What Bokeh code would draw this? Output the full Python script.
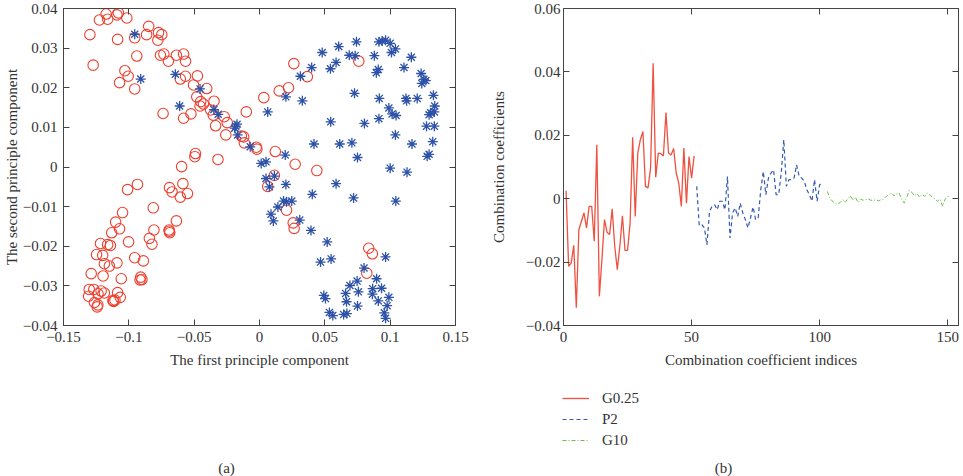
from bokeh.plotting import figure
from bokeh.layouts import row, column
from bokeh.models import FixedTicker, LinearAxis, Range1d, Label, Legend, LegendItem
from bokeh.embed import file_html
from bokeh.resources import INLINE

# ---------------- data: panel (a) ----------------
red_x = [-0.1298, -0.1273, -0.1225, -0.1174, -0.1162, -0.1091, -0.1080, -0.1015, -0.1086, -0.0955,
         -0.0939, -0.1030, -0.1005, -0.1071, -0.0955, -0.0848, -0.0864, -0.0778, -0.0773, -0.0748,
         -0.0758, -0.0732, -0.0697, -0.0636, -0.0581, -0.0566, -0.0606, -0.0566, -0.0475, -0.0505,
         -0.0480, -0.0450, -0.0429, -0.0455, -0.0404, -0.0348, -0.0374, -0.0354, -0.0336, -0.0270,
         -0.0247, -0.0258, -0.0101, -0.0139, -0.0121, -0.0116, -0.0025, -0.0020, -0.0738, -0.0581,
         -0.0525, -0.0490, -0.0495, -0.0318, -0.0596, 0.0033, 0.0151, 0.0222, 0.0263, 0.0366,
         0.0760, 0.0121, 0.0273, 0.0439,
         -0.1010, -0.0934, -0.0689, -0.0669, -0.0586, -0.0606, -0.0551, -0.1048, -0.1101, -0.1071,
         -0.1131, -0.0813, -0.0808, -0.0843, -0.0823, -0.0636, -0.0692, -0.0687, -0.0690, -0.1002,
         -0.1217, -0.1162, -0.1141, -0.1247, -0.1200, -0.1187, -0.1149, -0.1091, -0.1197, -0.1288,
         -0.0955, -0.0889, -0.1058, -0.0909, -0.0914, -0.0900, -0.1303, -0.1268, -0.1212, -0.1187,
         -0.1308, -0.1263, -0.1237, -0.1242, -0.1086, -0.1066, -0.1116, -0.1106, -0.1236, -0.1122,
         0.0063, 0.0114, 0.0207, 0.0258, 0.0265, 0.0836, 0.0864, 0.0821]
red_y = [0.0334, 0.0257, 0.0371, 0.0386, 0.0373, 0.0384, 0.0389, 0.0376, 0.0322, 0.0326,
         0.0280, 0.0243, 0.0229, 0.0213, 0.0197, 0.0355, 0.0334, 0.0320, 0.0339, 0.0334,
         0.0282, 0.0285, 0.0267, 0.0282, 0.0285, 0.0267, 0.0222, 0.0229, 0.0230, 0.0207,
         0.0177, 0.0165, 0.0159, 0.0154, 0.0198, 0.0166, 0.0144, 0.0131, 0.0104, 0.0127,
         0.0112, 0.0081, 0.0139, 0.0078, 0.0076, 0.0061, 0.0050, 0.0045, 0.0135, 0.0123,
         0.0134, 0.0034, 0.0026, 0.0019, 0.0001, 0.0175, 0.0192, 0.0200, 0.0261, 0.0228,
         0.0267, 0.0039, 0.0007, -0.0009,
         -0.0057, -0.0044, -0.0052, -0.0063, -0.0042, -0.0076, -0.0067, -0.0115, -0.0139, -0.0156,
         -0.0166, -0.0103, -0.0159, -0.0180, -0.0195, -0.0136, -0.0159, -0.0166, -0.0162, -0.0189,
         -0.0193, -0.0196, -0.0198, -0.0221, -0.0223, -0.0244, -0.0250, -0.0242, -0.0275, -0.0269,
         -0.0229, -0.0237, -0.0282, -0.0278, -0.0285, -0.0284, -0.0309, -0.0309, -0.0313, -0.0318,
         -0.0326, -0.0342, -0.0348, -0.0353, -0.0317, -0.0329, -0.0339, -0.0336, -0.0320, -0.0337,
         -0.0049, -0.0021, -0.0109, -0.0141, -0.0155, -0.0205, -0.0219, -0.0268]

blue_x = [-0.0955, -0.0909, -0.0644, -0.0611, -0.0455, -0.0349, -0.0316, -0.0182, -0.0172, -0.0190,
          -0.0167, -0.0071, 0.0013, 0.0050, 0.0063, 0.0202, 0.0197, 0.0313, 0.0328, 0.0399,
          0.0417, 0.0480, 0.0543, 0.0545, 0.0586, 0.0606, 0.0614, 0.0687, 0.0732, 0.0742,
          0.0707, 0.0727, 0.0750, 0.0803, 0.0879, 0.0894, 0.0909, 0.0917, 0.0914, 0.0914,
          0.0939, 0.0965, 0.1000, 0.1010, 0.1040, 0.0990, 0.1015, 0.1045, 0.1040, 0.1000,
          0.1106, 0.1121, 0.1126, 0.1162, 0.1167, 0.1207, 0.1129, 0.1237, 0.1258, 0.1242,
          0.1273, 0.1331, 0.1341, 0.1298, 0.1310, 0.1338, 0.1278, 0.1338, 0.1326, 0.1283,
          0.1298,
          0.0050, 0.0076, 0.0114, 0.0202, 0.0586, 0.0404, 0.0720, 0.0088, 0.0106, 0.0141,
          0.0184, 0.0207, 0.0247, 0.0308, 0.0394, 0.0518, 0.0467, 0.0548, 0.0800, 0.0965,
          0.1043, 0.0692, 0.0747, 0.0659, 0.0757, 0.0896, 0.0866, 0.0934, 0.0864, 0.0909,
          0.0990, 0.0977, 0.0955, 0.0965, 0.0666, 0.0750, 0.0492, 0.0505, 0.0535, 0.0561,
          0.0644, 0.0669]
blue_y = [0.0335, 0.0222, 0.0234, 0.0154, 0.0197, 0.0145, 0.0133, 0.0103, 0.0108, 0.0098,
          0.0081, 0.0051, 0.0009, 0.0013, 0.0139, 0.0177, 0.0030, 0.0229, 0.0167, 0.0251,
          0.0058, 0.0289, 0.0248, 0.0114, 0.0264, 0.0304, 0.0058, 0.0282, 0.0281, 0.0316,
          0.0061, 0.0186, 0.0024, 0.0110, 0.0281, 0.0238, 0.0246, 0.0173, 0.0122, 0.0316,
          0.0318, 0.0320, 0.0312, 0.0289, 0.0298, 0.0149, 0.0134, 0.0130, 0.0081, -0.0003,
          0.0251, 0.0173, 0.0167, 0.0277, 0.0058, 0.0173, -0.0013, 0.0236, 0.0221, 0.0211,
          0.0218, 0.0181, 0.0154, 0.0132, 0.0137, 0.0139, 0.0103, 0.0103, 0.0064, 0.0027,
          0.0032,
          -0.0029, -0.0050, -0.0023, -0.0044, -0.0042, -0.0069, -0.0078, -0.0119, -0.0136, -0.0101,
          -0.0086, -0.0088, -0.0086, -0.0134, -0.0160, -0.0189, -0.0240, -0.0232, -0.0255, -0.0227,
          -0.0086, -0.0299, -0.0288, -0.0319, -0.0315, -0.0282, -0.0307, -0.0306, -0.0321, -0.0338,
          -0.0329, -0.0350, -0.0368, -0.0382, -0.0340, -0.0351, -0.0324, -0.0332, -0.0367, -0.0375,
          -0.0372, -0.0370]

a_xticks = [-0.15, -0.1, -0.05, 0.0, 0.05, 0.1, 0.15]
a_xlabels = ["\u22120.15", "\u22120.1", "\u22120.05", "0", "0.05", "0.1", "0.15"]
a_yticks = [-0.04, -0.03, -0.02, -0.01, 0.0, 0.01, 0.02, 0.03, 0.04]
a_ylabels = ["\u22120.04", "\u22120.03", "\u22120.02", "\u22120.01", "0", "0.01", "0.02", "0.03", "0.04"]

# ---------------- data: panel (b) ----------------
g025_vals = [0.0025, -0.0213, -0.0203, -0.0147, -0.0344, -0.0098, -0.0071, -0.0045, -0.0092, -0.0024,
             -0.0024, -0.0134, 0.0170, -0.0308, -0.0192, -0.0066, -0.0106, -0.0113, -0.0032, -0.0150,
             -0.0224, -0.0150, -0.0054, -0.0163, -0.0163, -0.0077, 0.0194, -0.0056, 0.0144, 0.0186,
             0.0212, 0.0039, 0.0034, 0.0097, 0.0427, 0.0068, 0.0144, 0.0142, 0.0135, 0.0272,
             0.0144, 0.0138, 0.0158, 0.0081, 0.0049, -0.0024, 0.0160, -0.0014, 0.0133, 0.0065,
             0.0135]
p2_vals = [0.0039, -0.0085, -0.0082, -0.0092, -0.0145, -0.0040, -0.0024, -0.0019, -0.0035, -0.0008,
           -0.0008, -0.0035, 0.0070, -0.0124, -0.0045, -0.0029, -0.0056, -0.0014, -0.0045, -0.0066,
           -0.0092, -0.0061, -0.0026, -0.0066, -0.0061, 0.0028, 0.0086, 0.0013, 0.0065, 0.0081,
           0.0091, 0.0013, 0.0013, 0.0081, 0.0186, 0.0039, 0.0060, 0.0060, 0.0065, 0.0107,
           0.0070, 0.0065, 0.0055, 0.0028, 0.0013, -0.0008, 0.0060, -0.0008, 0.0044, 0.0049]
g10_vals = [0.0023, 0.0002, -0.0008, -0.0014, -0.0017, -0.0012, -0.0003, -0.0011, -0.0001, 0.0009,
            -0.0005, 0.0004, -0.0012, -0.0001, -0.0005, -0.0003, -0.0001, -0.0005, -0.0005, -0.0003,
            -0.0007, -0.0003, -0.0001, 0.0007, 0.0014, 0.0018, 0.0009, 0.0014, 0.0018, -0.0001,
            -0.0014, 0.0005, 0.0026, 0.0020, 0.0009, 0.0016, 0.0005, 0.0014, 0.0007, 0.0018,
            0.0012, 0.0005, -0.0001, -0.0008, -0.0001, -0.0024, -0.0001, 0.0007, 0.0009]
g025_idx = list(range(1, 1 + len(g025_vals)))
p2_idx = list(range(52, 52 + len(p2_vals)))
g10_idx = list(range(103, 103 + len(g10_vals)))

b_xticks = [0, 50, 100, 150]
b_xlabels = ["0", "50", "100", "150"]
b_yticks = [-0.04, -0.02, 0.0, 0.02, 0.04, 0.06]
b_ylabels = ["\u22120.04", "\u22120.02", "0", "0.02", "0.04", "0.06"]

series_names = ["G0.25", "P2", "G10"]
captions = ["(a)", "(b)"]

# ---------------- style ----------------
FONT = "Liberation Serif"
TXT = "#333333"
AXC = "#444444"
RED = "#ee3f2e"
BLUE = "#2d52a8"
LRED = "#f0503f"
LBLUE = "#3558b0"
GREEN = "#6cc04a"
TOP_H = 376
STRIP_H = 100


def style_main_axes(p, xt, xl, yt, yl, ystand, ylab_stand):
    for ax, ticks, labels in ((p.xaxis[0], xt, xl), (p.yaxis[0], yt, yl)):
        ax.ticker = FixedTicker(ticks=ticks)
        ax.major_label_overrides = {t: s for t, s in zip(ticks, labels)}
        ax.major_tick_in = 6
        ax.major_tick_out = 0
        ax.minor_tick_line_color = None
        ax.axis_line_color = AXC
        ax.major_tick_line_color = AXC
        ax.major_label_text_font = FONT
        ax.major_label_text_font_size = "15px"
        ax.major_label_text_color = TXT
        ax.axis_label_text_font = FONT
        ax.axis_label_text_font_size = "15px"
        ax.axis_label_text_color = TXT
        ax.axis_label_text_font_style = "normal"
    p.xaxis[0].major_label_standoff = 6
    p.xaxis[0].axis_label_standoff = 7
    p.yaxis[0].major_label_standoff = ystand
    p.yaxis[0].axis_label_standoff = ylab_stand
    for side, ticks in (("right", yt), ("above", xt)):
        a = LinearAxis(ticker=FixedTicker(ticks=ticks), major_label_text_font_size="0px",
                       major_label_standoff=0, major_tick_in=6, major_tick_out=0,
                       minor_tick_line_color=None, axis_line_color=AXC,
                       major_tick_line_color=AXC)
        a.major_label_overrides = {t: "" for t in ticks}
        p.add_layout(a, side)
    p.grid.visible = False
    p.outline_line_color = AXC


def strip(width):
    s = figure(width=width, height=STRIP_H, output_backend="svg", toolbar_location=None,
               x_range=Range1d(0, width), y_range=Range1d(0, STRIP_H),
               x_axis_type=None, y_axis_type=None,
               min_border_left=0, min_border_right=0, min_border_top=0, min_border_bottom=0)
    s.outline_line_color = None
    s.grid.visible = False
    return s


# ---------------- panel (a) ----------------
pa = figure(width=481, height=TOP_H, output_backend="svg", toolbar_location=None,
            x_range=Range1d(-0.15, 0.15), y_range=Range1d(-0.04, 0.04),
            min_border_left=58, min_border_right=26, min_border_top=8, min_border_bottom=51,
            x_axis_label="The first principle component",
            y_axis_label="The second principle component")
style_main_axes(pa, a_xticks, a_xlabels, a_yticks, a_ylabels, 6, 0)
pa.scatter(red_x, red_y, marker="circle", size=10.5, fill_alpha=0, line_color=RED, line_width=1.1)
pa.scatter(blue_x, blue_y, marker="asterisk", size=10, line_color=BLUE, line_width=1.3)

sa = strip(481)
sa.add_layout(Label(x=226, y=9, text=captions[0], text_align="center", text_baseline="middle",
                    text_font=FONT, text_font_size="15px", text_color=TXT))

# ---------------- panel (b) ----------------
pb = figure(width=482, height=TOP_H, output_backend="svg", toolbar_location=None,
            x_range=Range1d(0, 154.2), y_range=Range1d(-0.04, 0.06),
            min_border_left=82, min_border_right=5, min_border_top=8, min_border_bottom=51,
            x_axis_label="Combination coefficient indices",
            y_axis_label="Combination coefficients")
style_main_axes(pb, b_xticks, b_xlabels, b_yticks, b_ylabels, 3, 16)
line_styles = [dict(line_color=LRED, line_width=1.3),
               dict(line_color=LBLUE, line_width=1.2, line_dash="4 3"),
               dict(line_color=GREEN, line_width=1.0, line_dash="4 2 1 2")]
pb.line(g025_idx, g025_vals, **line_styles[0])
pb.line(p2_idx, p2_vals, **line_styles[1])
pb.line(g10_idx, g10_vals, **line_styles[2])

# legend strip: key renderers hold one off-range placeholder point so that
# the legend swatches get their styles; nothing of them is visible in the strip
sb = strip(482)
key_renderers = [sb.line(x=[-10, -9], y=[-10, -10], **st) for st in line_styles]
legend = Legend(items=[LegendItem(label=n, renderers=[r]) for n, r in zip(series_names, key_renderers)],
                location=(81, 26), orientation="vertical",
                glyph_width=27, glyph_height=20, label_height=20, label_standoff=13,
                padding=0, margin=0, spacing=1,
                border_line_color=None, background_fill_alpha=0,
                label_text_font=FONT, label_text_font_size="15px", label_text_color=TXT)
sb.add_layout(legend)
sb.add_layout(Label(x=242, y=9, text=captions[1], text_align="center", text_baseline="middle",
                    text_font=FONT, text_font_size="15px", text_color=TXT))

layout = column(row(pa, pb, spacing=0), row(sa, sb, spacing=0), spacing=0)
open("out.html", "w").write(file_html(layout, INLINE))
